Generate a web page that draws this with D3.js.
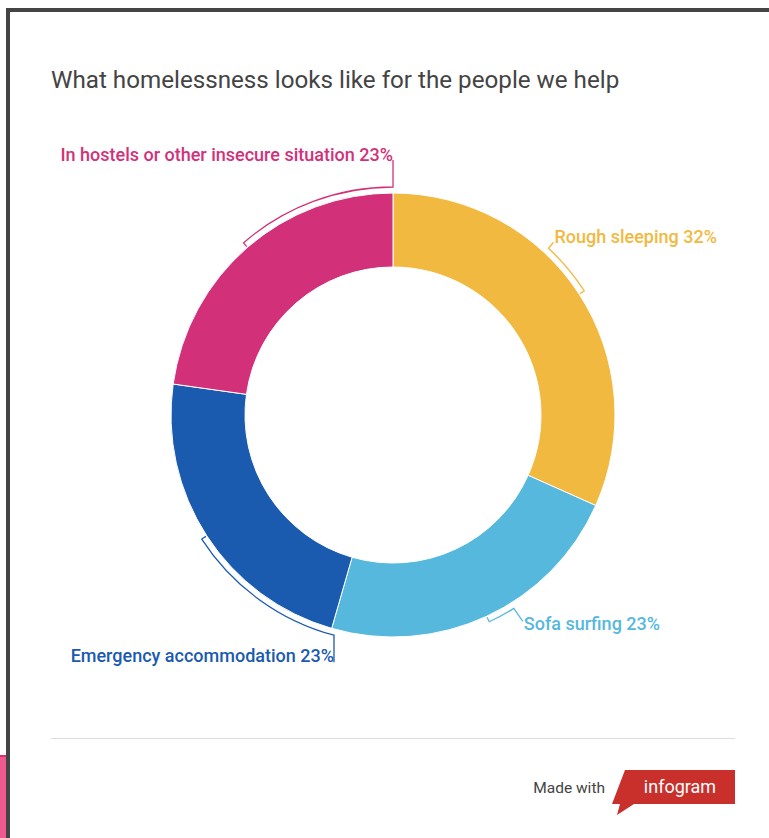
<!DOCTYPE html>
<html>
<head>
<meta charset="utf-8">
<script src="https://cdn.jsdelivr.net/npm/d3@7"></script>
<style>
  body { margin: 0; background: #fff; }
  text { font-family: Roboto, "Open Sans", sans-serif; }
</style>
</head>
<body>
<div id="chart"></div>
<script>
// data
var categories = ["Rough sleeping", "Sofa surfing", "Emergency accommodation", "In hostels or other insecure situation"];
var values = [32, 23, 23, 23];
var colors = ["#F2B940", "#56B8DD", "#1A5AAF", "#D2317A"];
var title = "What homelessness looks like for the people we help";

// label placement (angle in degrees from 12 o'clock where the bracket ends)
var labelAngle = [43, 148, 195, 360];
var linkOffset = [[5, -6], [9, 13], [0, 27], [0, -27]];
var textOffset = [[1, 1], [1, 9], [0, 0], [0, 1]];
var textAnchor = ["start", "start", "end", "end"];

var svgWidth = 769, svgHeight = 838;
var cx = 393, cy = 415;
var innerR = 148, outerR = 222, bracketR = 228;

var svg = d3.select("#chart").append("svg")
    .attr("width", svgWidth)
    .attr("height", svgHeight);

// frame
svg.append("rect").attr("x", 0).attr("y", 755).attr("width", 6).attr("height", 83).attr("fill", "#EE5A8E");
svg.append("rect").attr("x", 0).attr("y", 755).attr("width", 6).attr("height", 2).attr("fill", "#DD2F6E");
svg.append("rect").attr("x", 6).attr("y", 8).attr("width", svgWidth - 6).attr("height", 4).attr("fill", "#444");
svg.append("rect").attr("x", 6).attr("y", 8).attr("width", 4).attr("height", svgHeight - 8).attr("fill", "#444");

svg.append("text")
    .attr("x", 51)
    .attr("y", 88)
    .attr("font-size", 24.2)
    .attr("fill", "#444")
    .text(title);

var pie = d3.pie().sort(null).value(d => d);
var arcs = pie(values);
var arc = d3.arc().innerRadius(innerR).outerRadius(outerR);

var g = svg.append("g").attr("transform", `translate(${cx},${cy})`);

g.selectAll("path.slice")
    .data(arcs)
    .enter().append("path")
    .attr("class", "slice")
    .attr("d", arc)
    .attr("fill", (d, i) => colors[i])
    .attr("stroke", "#fff")
    .attr("stroke-width", 1);

function polar(r, a) {
    return [r * Math.sin(a), -r * Math.cos(a)];
}

// brackets + connectors
arcs.forEach(function(d, i) {
    var mid = (d.startAngle + d.endAngle) / 2;
    var end = labelAngle[i] * Math.PI / 180;
    var p = d3.path();
    var t = polar(bracketR - 5, mid);
    var s = polar(bracketR, mid);
    p.moveTo(t[0], t[1]);
    p.lineTo(s[0], s[1]);
    p.arc(0, 0, bracketR, mid - Math.PI / 2, end - Math.PI / 2, end < mid);
    var e = polar(bracketR, end);
    var l = [e[0] + linkOffset[i][0], e[1] + linkOffset[i][1]];
    p.lineTo(l[0], l[1]);
    g.append("path")
        .attr("d", p.toString())
        .attr("fill", "none")
        .attr("stroke", colors[i])
        .attr("stroke-width", 1.3);
    g.append("text")
        .attr("x", l[0] + textOffset[i][0])
        .attr("y", l[1] + textOffset[i][1])
        .attr("text-anchor", textAnchor[i])
        .attr("font-size", 18)
        .attr("font-weight", 500)
        .attr("fill", colors[i])
        .text(categories[i] + " " + values[i] + "%");
});

// footer
svg.append("line")
    .attr("x1", 51).attr("x2", 735)
    .attr("y1", 738.5).attr("y2", 738.5)
    .attr("stroke", "#ddd");
svg.append("text")
    .attr("x", 605).attr("y", 793)
    .attr("text-anchor", "end")
    .attr("font-size", 15.5)
    .attr("fill", "#444")
    .text("Made with");
svg.append("path")
    .attr("d", "M625,770 L735,770 L735,804 L634,804 L617,815 L620,804 L612,804 Z")
    .attr("fill", "#C9302C");
svg.append("text")
    .attr("x", 680).attr("y", 793)
    .attr("text-anchor", "middle")
    .attr("font-size", 18)
    .attr("fill", "#fff")
    .text("infogram");
</script>
</body>
</html>
